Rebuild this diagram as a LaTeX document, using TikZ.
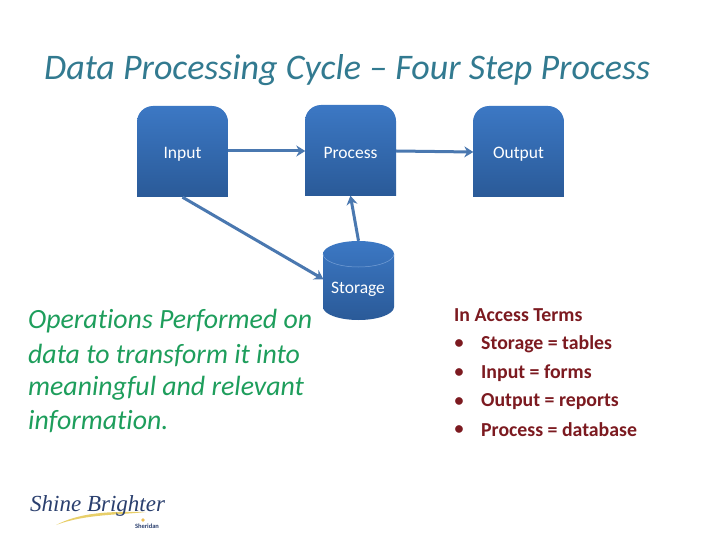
\documentclass[tikz,border=0pt]{standalone}
\usepackage{fontspec}
\setmainfont[Ligatures=NoCommon]{Carlito}
\usetikzlibrary{arrows.meta}
\definecolor{boxtop}{HTML}{3C78C4}
\definecolor{boxbot}{HTML}{2A5A98}
\definecolor{linkc}{HTML}{4A78B0}
\definecolor{titlec}{HTML}{327A90}
\definecolor{greenc}{HTML}{1E9E5C}
\definecolor{darkc}{HTML}{7C1A20}
\definecolor{navyc}{HTML}{2A3F6E}
\definecolor{swoosh}{HTML}{E8CF6A}
\tikzset{
  x=1pt,y=-1pt,
  shapelabel/.style={text=white,font=\fontsize{17.5}{20}\selectfont,inner sep=0pt},
  anchorbox/.style={inner sep=0pt,minimum width=91pt,minimum height=91pt},
  link/.style={draw=linkc,line width=3pt,-{Stealth[length=9pt,width=11pt]},shorten >=-0.5pt},
  greenline/.style={anchor=west,inner sep=0pt,text=greenc,font=\fontsize{27.8}{30}\selectfont\itshape},
  termline/.style={anchor=west,inner sep=0pt,text=darkc,font=\fontsize{19.8}{22}\selectfont\bfseries},
  bulletmark/.style={anchor=center,inner sep=0pt,text=darkc,font=\fontsize{18}{22}\selectfont\bfseries},
}
\newcommand{\topround}[3]{%
  \path[top color=boxtop,bottom color=boxbot]
    (#1,#2+91) -- (#1,#2+16) arc[start angle=180,end angle=270,radius=16]
    -- (#1+#3-16,#2) arc[start angle=270,end angle=360,radius=16]
    -- (#1+#3,#2+91) -- cycle;}
\begin{document}
\begin{tikzpicture}
\useasboundingbox (0,0) rectangle (720,540);
\fill[white] (0,0) rectangle (720,540);
\node[anchor=west,inner sep=0pt,text=titlec,font=\fontsize{36}{40}\selectfont\itshape] (title) at (44,70) {Data Processing Cycle -- Four Step Process};
% boxes
\topround{137}{106}{91}
\topround{305}{105}{91}
\topround{473}{106}{91}
\node[anchorbox] (input) at (182.5,151.5) {};
\node[anchorbox] (process) at (350.5,150.5) {};
\node[anchorbox] (output) at (518.5,151.5) {};
\node[shapelabel] (inputt) at (182.5,154) {Input};
\node[shapelabel] (processt) at (350.5,153) {Process};
\node[shapelabel] (outputt) at (518.5,154) {Output};
% cylinder
\path[top color=boxtop,bottom color=boxbot]
  (323,254) arc[x radius=35.5,y radius=13,start angle=180,end angle=360]
  -- (394,307) arc[x radius=35.5,y radius=13,start angle=0,end angle=180] -- cycle;
\draw[boxtop!70!white,line width=0.5pt] (323,254) arc[x radius=35.5,y radius=13,start angle=180,end angle=0];
\node[inner sep=0pt,minimum width=71pt,minimum height=79pt] (storage) at (358.5,280.5) {};
\node[shapelabel] (storaget) at (358,289) {Storage};
% connectors
\coordinate (a1) at (228,151);
\coordinate (a2) at (305,151);
\coordinate (b1) at (396,151);
\coordinate (b2) at (473,152);
\coordinate (c2) at (323,279);
\draw[link] (input.east |- a1) -- (process.west |- a2);
\draw[link] (process.east |- b1) -- (output.west |- b2);
\draw[link] (input.south) -- (c2);
\draw[link] (storage.north) -- (process.south);
% left text
\node[greenline] (g1) at (28,321) {Operations Performed on};
\node[greenline] (g2) at (28,355) {data to transform it into};
\node[greenline] (g3) at (28,388) {meaningful and relevant};
\node[greenline] (g4) at (28,422) {information.};
% right text
\node[termline] (t0) at (454,315) {In Access Terms};
\node[bulletmark] (b1m) at (459,344) {•};
\node[bulletmark] (b2m) at (459,373) {•};
\node[bulletmark] (b3m) at (459,402) {•};
\node[bulletmark] (b4m) at (459,430) {•};
\node[termline] (t1) at (481,344) {Storage = tables};
\node[termline] (t2) at (481,373) {Input = forms};
\node[termline] (t3) at (481,402) {Output = reports};
\node[termline] (t4) at (481,430) {Process = database};
% logo
\fill[swoosh] (56,525) .. controls (85,510) and (120,512) .. (146,512) .. controls (120,515) and (85,514) .. (56,525) -- cycle;
\node[anchor=west,inner sep=0pt,text=navyc] (logo) at (30,506) {\fontspec{Liberation Serif}\fontsize{23}{26}\selectfont\itshape Shine Brighter};
\node[inner sep=0pt,text=navyc,font=\fontsize{6.5}{8}\selectfont\bfseries] (sher) at (147,526) {Sheridan};
\fill[swoosh!80!orange] (143,520) circle[radius=1.8];
\end{tikzpicture}
\end{document}
